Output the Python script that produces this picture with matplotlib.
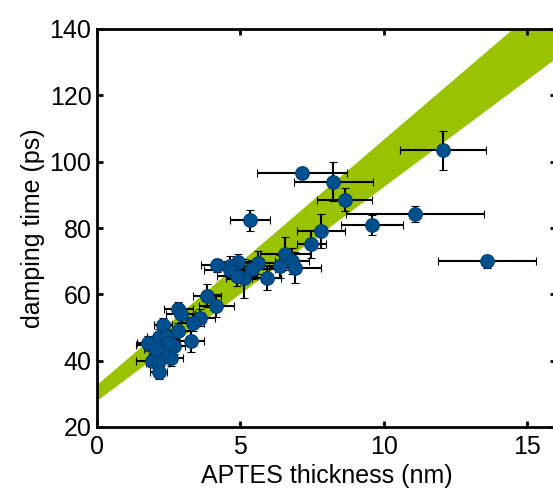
import numpy as np
import matplotlib
matplotlib.use("Agg")
import matplotlib.pyplot as plt

plt.rcParams['font.family'] = ['Liberation Sans', 'DejaVu Sans']

# measured points: APTES thickness (nm), damping time (ps), errors
thick = [12.06, 7.14, 8.24, 8.63, 5.34, 11.09, 9.58, 7.80, 7.47, 13.61,
         6.55, 6.79, 6.91, 6.39, 5.92, 5.60, 5.40, 5.11, 4.91, 4.62,
         4.64, 4.19, 4.88, 3.83, 4.16, 3.60, 3.33, 3.29, 2.84, 2.92,
         2.84, 2.30, 2.67, 2.59, 2.47, 2.15, 2.40, 1.86, 1.78, 2.26,
         1.92, 2.12, 2.15, 2.05, 2.50]
damp = [103.4, 96.5, 94.0, 88.5, 82.3, 84.2, 80.9, 79.1, 75.1, 70.0,
        72.3, 70.0, 68.0, 68.5, 64.9, 69.5, 67.5, 64.8, 69.7, 68.5,
        67.2, 68.8, 65.5, 59.6, 56.6, 53.0, 51.5, 45.8, 55.6, 54.1,
        48.8, 50.8, 44.4, 40.9, 46.5, 47.0, 47.5, 44.8, 45.3, 42.7,
        40.0, 39.4, 36.6, 43.5, 45.2]
thick_err = [1.50, 1.57, 1.37, 0.97, 0.70, 2.40, 1.07, 0.84, 0.51, 1.71,
             0.88, 0.60, 0.90, 0.60, 0.50, 0.70, 0.80, 0.60, 0.80, 0.60,
             0.90, 0.55, 0.70, 0.50, 0.60, 0.50, 0.40, 0.45, 0.50, 0.50,
             0.40, 0.30, 0.40, 0.40, 0.40, 0.40, 0.30, 0.50, 0.40, 0.40,
             0.55, 0.40, 0.30, 0.40, 0.40]
damp_err = [5.8, 1.5, 6.0, 3.5, 3.2, 2.3, 3.1, 5.0, 4.2, 2.0,
            5.0, 4.0, 4.7, 3.5, 3.5, 3.5, 3.0, 6.0, 2.5, 3.0,
            2.5, 2.0, 3.0, 3.4, 3.5, 2.5, 2.5, 3.2, 2.0, 2.5,
            2.5, 2.0, 2.5, 2.5, 2.5, 2.5, 2.0, 2.0, 2.0, 2.5,
            2.0, 2.5, 2.0, 2.0, 2.0]

# model band (lower / upper edge)
band_x = [0, 16]
band_lo = [28.1, 131.3]
band_hi = [32.9, 151.3]

fig = plt.figure(figsize=(5.53, 4.91), dpi=100)
ax = fig.add_axes([97/553, 64/491, 459/553, 398/491])

ax.fill_between(band_x, band_lo, band_hi, color='#99c200', lw=0, zorder=1)
ax.errorbar(thick, damp, xerr=thick_err, yerr=damp_err, fmt='o',
            color='#00508f', mec='#003f73', mew=0.8, ms=9.8,
            ecolor='black', elinewidth=1.5, capsize=3, capthick=1.5, zorder=2)

ax.set_xlim(0, 16)
ax.set_ylim(20, 140)
ax.set_xticks([0, 5, 10, 15])
ax.set_yticks([20, 40, 60, 80, 100, 120, 140])
ax.set_xlabel("APTES thickness (nm)", fontsize=18, labelpad=3)
ax.set_ylabel("damping time (ps)", fontsize=18, labelpad=3)
ax.tick_params(direction='in', length=4, width=2, labelsize=18,
               top=True, right=True)
ax.tick_params(axis='x', pad=6)
ax.tick_params(axis='y', pad=4)
for s in ax.spines.values():
    s.set_linewidth(2)

fig.savefig("out.png", dpi=100)
